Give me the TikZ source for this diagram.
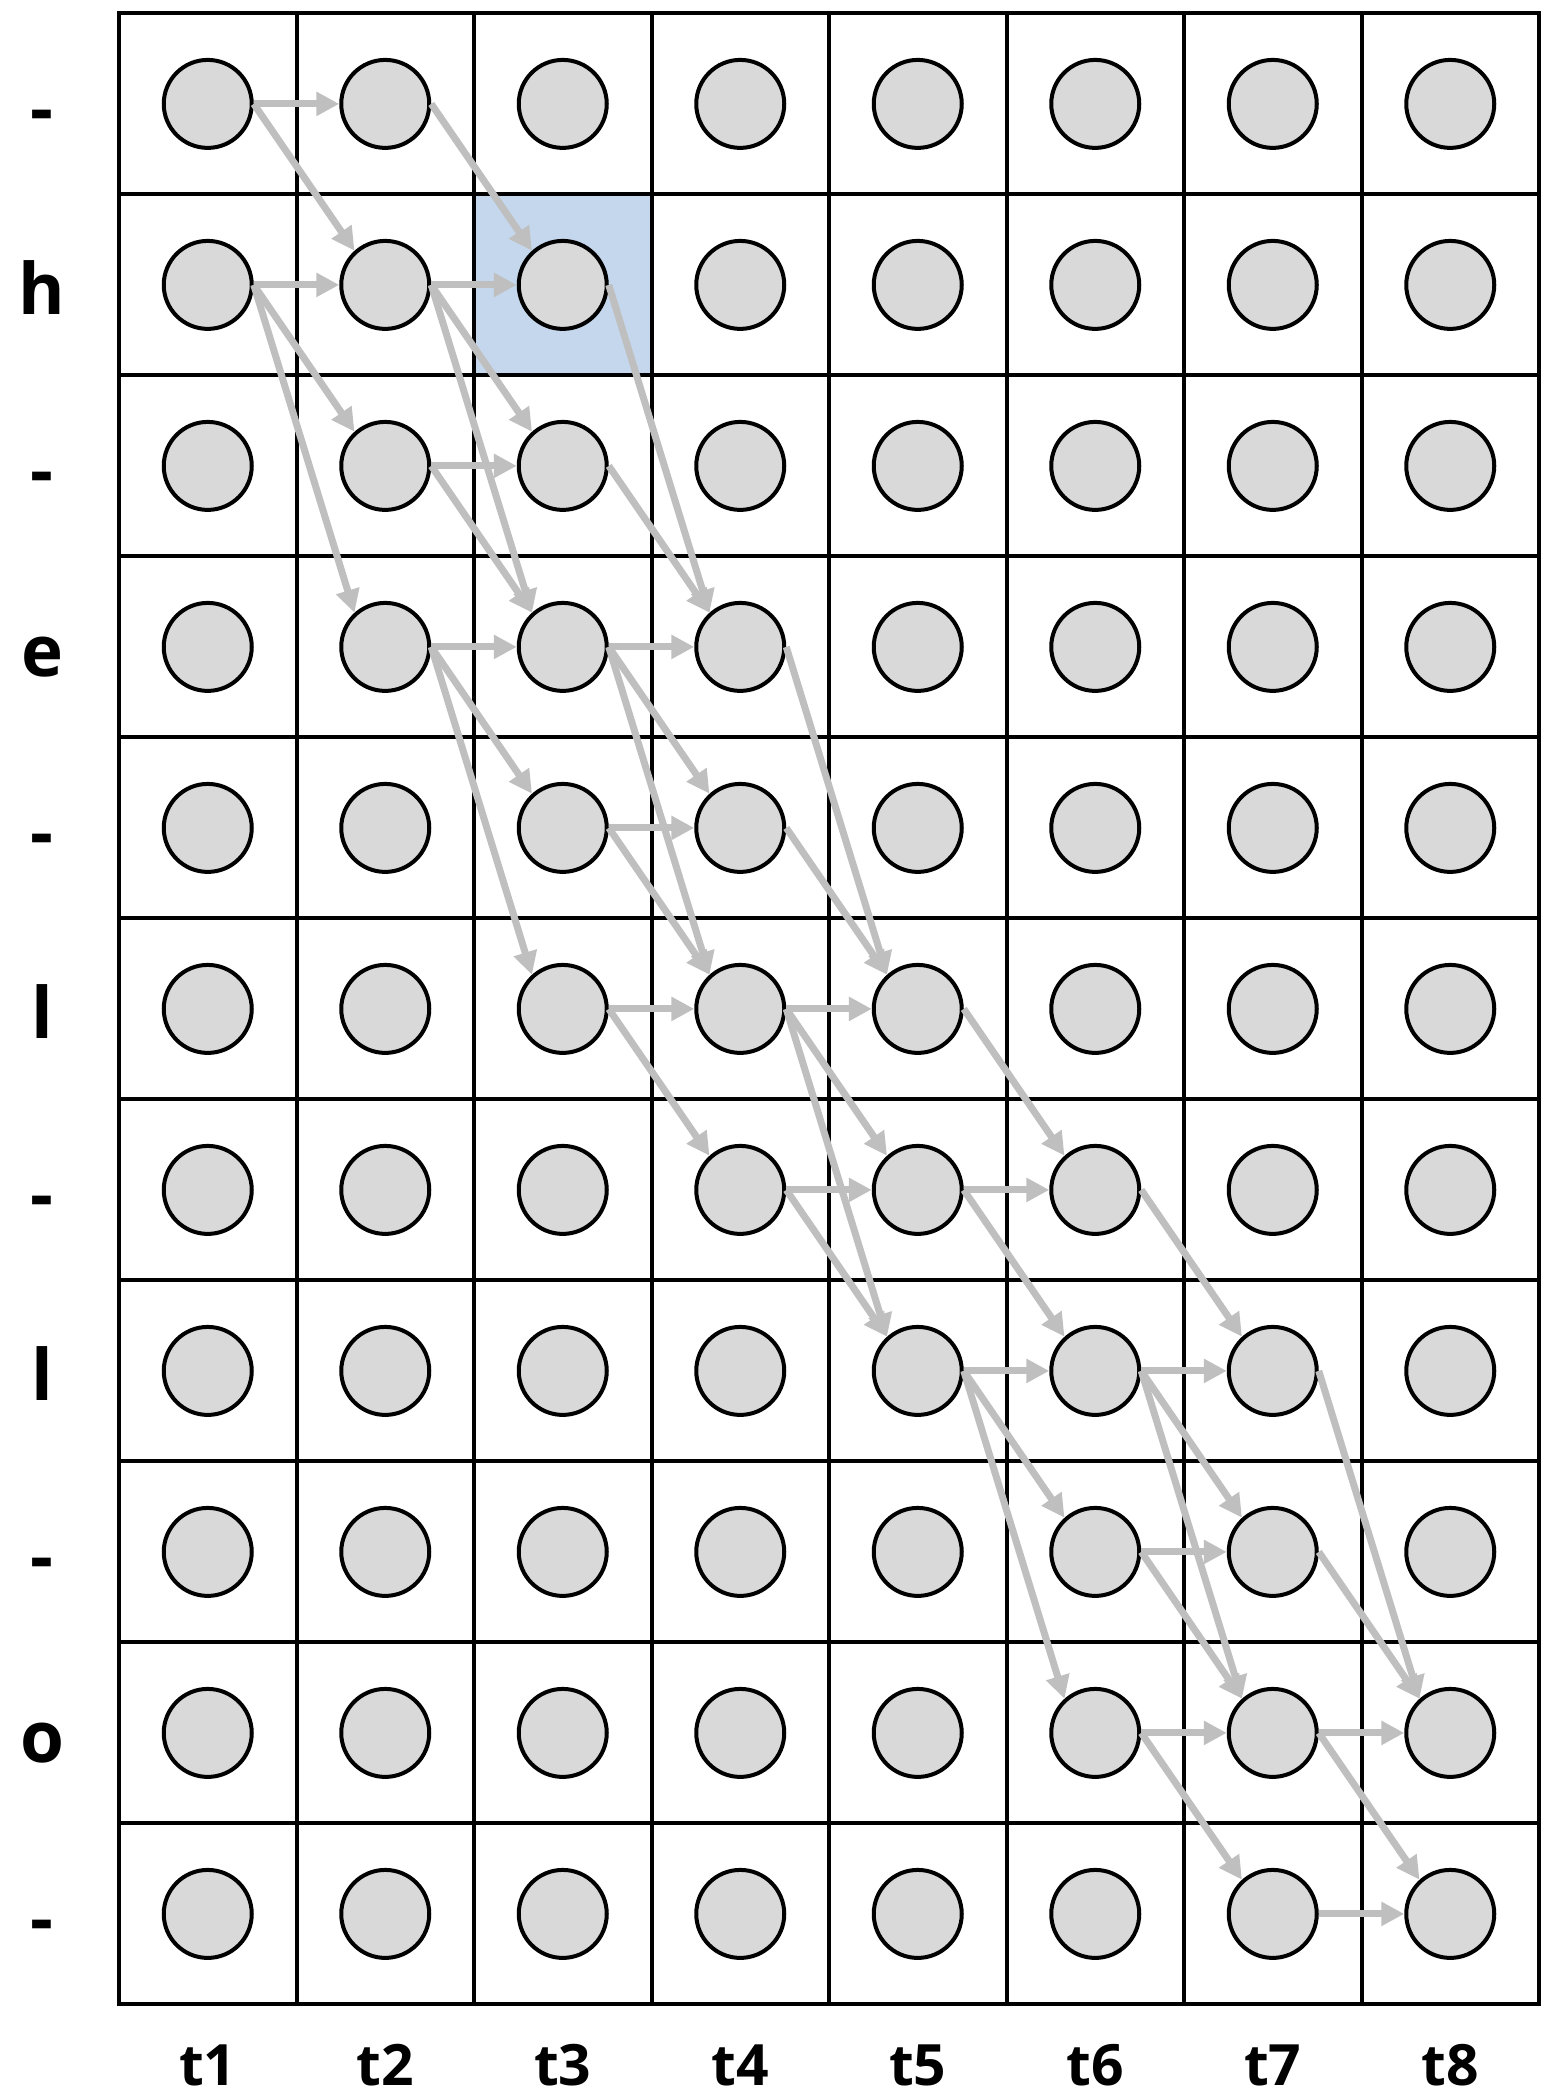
\documentclass[tikz,border=0pt]{standalone}
\usepackage{fontspec}
\setmainfont{Open Sans}
\usetikzlibrary{arrows.meta}
\definecolor{nodegray}{RGB}{217,217,217}
\definecolor{arrgray}{RGB}{191,191,191}
\definecolor{hlblue}{RGB}{197,215,236}
\begin{document}
\begin{tikzpicture}[x=1pt,y=-1pt,
  gridline/.style={draw=black, line width=4pt},
  lat/.style={circle, draw=black, fill=nodegray, line width=4pt, minimum size=88pt, inner sep=0pt},
  arr/.style={draw=arrgray, line width=7pt, -{Triangle[length=23pt,width=23pt]}},
  rowlab/.style={font=\bfseries\fontsize{71}{71}\selectfont, anchor=base, inner sep=0pt},
  collab/.style={font=\bfseries\fontsize{57}{57}\selectfont, anchor=base, inner sep=0pt}]
\useasboundingbox (0,0) rectangle (1552,2098);
\fill[white] (0,0) rectangle (1552,2098);
% highlighted cell (row h, t3)
\fill[hlblue] ({119+2*177.5},{13.4+1*181}) rectangle ({119+3*177.5},{13.4+2*181});
% grid
\foreach \c in {0,...,8} \draw[gridline] ({119+\c*177.5},13.4) -- ({119+\c*177.5},2004.4);
\foreach \r in {0,...,11} \draw[gridline] (117,{13.4+\r*181}) -- (1541,{13.4+\r*181});
% lattice nodes
\foreach \r in {0,...,10} {
  \foreach \c in {1,...,8} {
    \node[lat] (n\r-\c) at ({119+(\c-0.5)*177.5},{13.4+(\r+0.5)*181}) {};
  }
}
% row labels
\foreach \lab [count=\r from 0] in {-,h,-,e,-,l,-,l,-,o,-} {
  \node[rowlab] (r\r) at (42,{13.4+(\r+0.5)*181+29.5}) {\lab};
}
% column labels
\foreach \c in {1,...,8} {
  \node[collab] (t\c) at ({119+(\c-0.5)*177.5},2085) {t\c};
}
% horizontal transitions
\foreach \a/\b in {0-1/0-2,1-1/1-2,1-2/1-3,2-2/2-3,3-2/3-3,3-3/3-4,4-3/4-4,5-3/5-4,5-4/5-5,6-4/6-5,6-5/6-6,7-5/7-6,7-6/7-7,8-6/8-7,9-6/9-7,9-7/9-8,10-7/10-8}
  \draw[arr] (n\a.east) -- (n\b.west);
% diagonal transitions (one row down and two rows down)
\foreach \a/\b in {0-1/1-2,1-1/2-2,0-2/1-3,1-2/2-3,2-2/3-3,3-2/4-3,2-3/3-4,3-3/4-4,4-3/5-4,5-3/6-4,4-4/5-5,5-4/6-5,6-4/7-5,5-5/6-6,6-5/7-6,7-5/8-6,6-6/7-7,7-6/8-7,8-6/9-7,8-7/9-8,9-6/10-7,9-7/10-8,1-1/3-2,1-2/3-3,3-2/5-3,1-3/3-4,3-3/5-4,3-4/5-5,5-4/7-5,7-5/9-6,7-6/9-7,7-7/9-8}
  \draw[arr] (n\a.east) -- (n\b.132);
\end{tikzpicture}
\end{document}
